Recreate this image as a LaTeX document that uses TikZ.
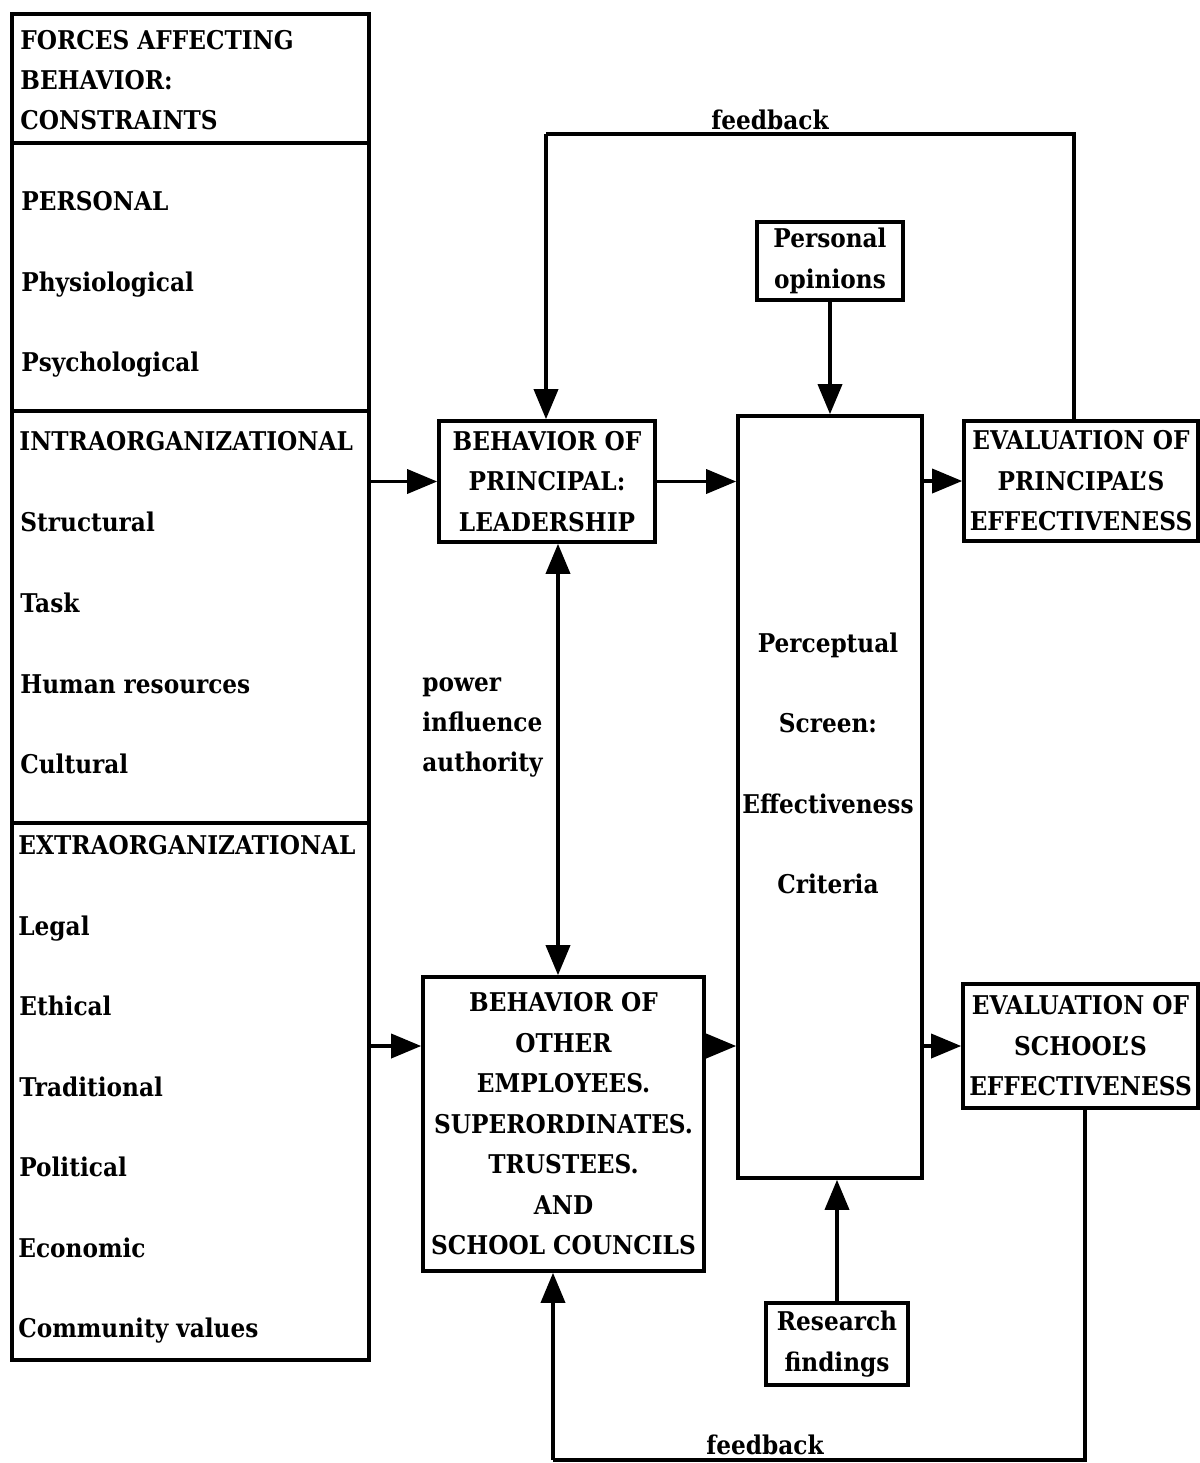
\documentclass[tikz,border=0pt]{standalone}
\usepackage{fontspec}
\setmainfont{DejaVu Serif Condensed}
\usetikzlibrary{arrows.meta}
\begin{document}
\begin{tikzpicture}[x=0.5pt,y=-0.5pt,
  txt/.style={font=\bfseries\fontsize{12.9}{20.25}\selectfont, inner sep=0pt, align=center},
  item/.style={font=\bfseries\fontsize{12.9}{20.25}\selectfont, inner sep=0pt, anchor=base west},
  box/.style={txt, draw, line width=1.8pt},
  part/.style={draw, line width=1.8pt, minimum width=178.5pt, inner sep=0pt},
  link/.style={line width=1.8pt},
  arr/.style={line width=1.8pt, -{Triangle[length=15pt,width=12pt]}},
  dblarr/.style={line width=1.8pt, {Triangle[length=15pt,width=12pt]}-{Triangle[length=15pt,width=12pt]}}
]
\useasboundingbox (0,0) rectangle (1200,1463);

% left column: forces affecting behavior
\node[part, minimum height=64.5pt] (sec1) at (190.5,78.5) {};
\node[part, minimum height=134pt]  (sec2) at (190.5,277) {};
\node[part, minimum height=206pt]  (sec3) at (190.5,617) {};
\node[part, minimum height=268.5pt] (sec4) at (190.5,1091.5) {};

\node[item] (t1) at (20,49)  {FORCES AFFECTING};
\node[item] (t2) at (20,89)  {BEHAVIOR:};
\node[item] (t3) at (20,129) {CONSTRAINTS};
\node[item] (p0) at (21,210) {PERSONAL};
\node[item] (p1) at (21,291) {Physiological};
\node[item] (p2) at (21,371) {Psychological};
\node[item] (i0) at (19,450) {INTRAORGANIZATIONAL};
\node[item] (i1) at (20,531) {Structural};
\node[item] (i2) at (20,612) {Task};
\node[item] (i3) at (20,693) {Human resources};
\node[item] (i4) at (20,773) {Cultural};
\node[item] (e0) at (18,854)  {EXTRAORGANIZATIONAL};
\node[item] (e1) at (18,935)  {Legal};
\node[item] (e2) at (19,1015) {Ethical};
\node[item] (e3) at (19,1096) {Traditional};
\node[item] (e4) at (19,1176) {Political};
\node[item] (e5) at (18,1257) {Economic};
\node[item] (e6) at (18,1337) {Community values};

% behaviour boxes
\node[box, minimum width=108pt, minimum height=60.5pt] (pr) at (547,481.5)
  {BEHAVIOR OF\\PRINCIPAL:\\LEADERSHIP};
\node[box, minimum width=140.5pt, minimum height=147pt] (other) at (563.5,1124)
  {BEHAVIOR OF\\OTHER\\EMPLOYEES.\\SUPERORDINATES.\\TRUSTEES.\\AND\\SCHOOL COUNCILS};

% perceptual screen
\node[draw, line width=1.8pt, minimum width=92pt, minimum height=381pt, inner sep=0pt] (screen) at (830,797) {};
\node[txt, font=\bfseries\fontsize{12.9}{40.25}\selectfont] (screentext) at (828,763.5)
  {Perceptual\\Screen:\\Effectiveness\\Criteria};

% inputs to the screen
\node[box, minimum width=73pt, minimum height=39pt] (po) at (830,261) {Personal\\opinions};
\node[box, minimum width=71pt, minimum height=41pt] (rf) at (837,1344) {Research\\findings};

% evaluations
\node[box, minimum width=117pt, minimum height=60pt] (evp) at (1081,481)
  {EVALUATION OF\\PRINCIPAL'S\\EFFECTIVENESS};
\node[box, minimum width=117.5pt, minimum height=62pt] (evs) at (1080.5,1046)
  {EVALUATION OF\\SCHOOL'S\\EFFECTIVENESS};

% main flow
\draw[arr] (sec3.east |- pr.west) -- (pr.west);
\draw[arr] (sec4.east |- evs.west) -- (other.west |- evs.west);
\draw[arr] (pr.east) -- (screen.west |- pr.east);
\draw[arr] (other.east |- evs.west) -- (screen.west |- evs.west);
\draw[arr] (screen.east |- evp.west) -- (evp.west);
\draw[arr] (screen.east |- evs.west) -- (evs.west);
\draw[arr] (po.south) -- (po.south |- screen.north);
\draw[arr] (rf.north) -- (rf.north |- screen.south);

% power / influence / authority
\coordinate (pw) at (558,760);
\draw[dblarr] (pw |- pr.south) -- (pw |- other.north);
\node[txt, align=left, anchor=west, font=\bfseries\fontsize{12.9}{20}\selectfont] (pia) at (422,727)
  {power\\influence\\authority};

% feedback loops
\coordinate (fbtR) at (1074,134);
\coordinate (fbtL) at (546,134);
\draw[link] (fbtR |- evp.north) -- (fbtR) -- (fbtL);
\draw[arr] (fbtL) -- (fbtL |- pr.north);
\node[txt] (fbt) at (770,120) {feedback};

\coordinate (fbbR) at (1085,1460);
\coordinate (fbbL) at (553,1460);
\draw[link] (fbbR |- evs.south) -- (fbbR) -- (fbbL);
\draw[arr] (fbbL) -- (fbbL |- other.south);
\node[txt] (fbb) at (765,1445) {feedback};
\end{tikzpicture}
\end{document}
